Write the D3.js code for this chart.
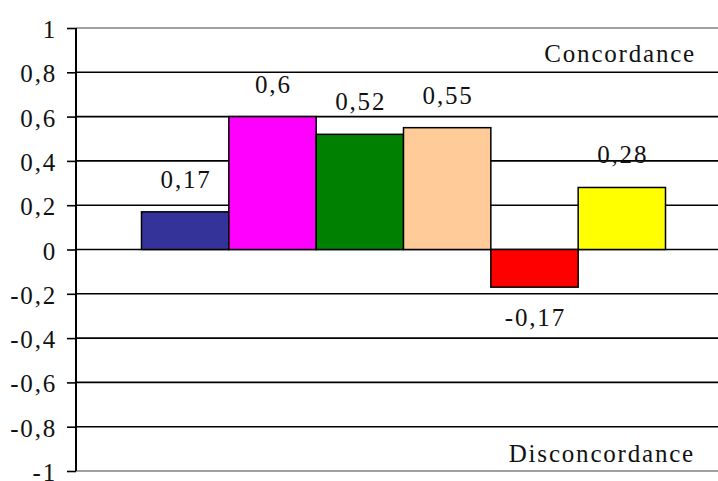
<!DOCTYPE html>
<html>
<head>
<meta charset="utf-8">
<script src="https://cdn.jsdelivr.net/npm/d3@7"></script>
<style>
  html, body { margin: 0; padding: 0; background: #fff; }
  svg { display: block; }
</style>
</head>
<body>
<script>
// Concordance scores, one bar per series
const seriesNames = ["S1", "S2", "S3", "S4", "S5", "S6"];
const seriesValues = [0.17, 0.6, 0.52, 0.55, -0.17, 0.28];
const seriesColors = ["#333399", "#FF00FF", "#008000", "#FFCC99", "#FF0000", "#FFFF00"];
const tickValues = [-1, -0.8, -0.6, -0.4, -0.2, 0, 0.2, 0.4, 0.6, 0.8, 1];
const topLabel = "Concordance";
const bottomLabel = "Disconcordance";

const width = 718, height = 481;
const plot = { left: 76, right: 731, top: 28, bottom: 471 };
const FONT = "Liberation Serif";
const FS = 25;
const LS = 1.8;

const locale = d3.formatLocale({ decimal: ",", thousands: ".", grouping: [3], currency: ["", ""], minus: "-" });
const fmt = locale.format("~g");

const svg = d3.select("body").append("svg")
  .attr("width", width).attr("height", height)
  .attr("font-family", FONT);

const y = d3.scaleLinear().domain([-1, 1]).range([plot.bottom, plot.top]);

// one category, six series side by side, 150% gap
const catX = d3.scaleBand().domain(["all"]).range([plot.left, plot.right])
  .paddingInner(0).paddingOuter(0.125);
const x = d3.scaleBand().domain(seriesNames)
  .range([catX("all"), catX("all") + catX.bandwidth()]).padding(0);

// horizontal gridlines
svg.append("g").selectAll("line").data(tickValues).join("line")
  .attr("x1", plot.left).attr("x2", width)
  .attr("y1", d => y(d)).attr("y2", d => y(d))
  .attr("stroke", d => (d === 1 || d === -1) ? "#808080" : "#000")
  .attr("stroke-width", 1.6);

// bars
svg.append("g").selectAll("rect").data(seriesValues).join("rect")
  .attr("x", (d, i) => x(seriesNames[i]))
  .attr("width", x.bandwidth())
  .attr("y", d => y(Math.max(0, d)))
  .attr("height", d => Math.abs(y(d) - y(0)))
  .attr("fill", (d, i) => seriesColors[i])
  .attr("stroke", "#000")
  .attr("stroke-width", 1.5);

// value labels
svg.append("g").selectAll("text").data(seriesValues).join("text")
  .attr("x", (d, i) => x(seriesNames[i]) + x.bandwidth() / 2 + LS / 2)
  .attr("y", d => d >= 0 ? y(d) - 24 : y(d) + 39)
  .attr("text-anchor", "middle")
  .attr("font-family", FONT)
  .attr("font-size", FS)
  .attr("letter-spacing", LS)
  .attr("fill", "#111")
  .text(d => fmt(d));

// y axis
const axis = svg.append("g")
  .attr("transform", `translate(${plot.left},0)`)
  .call(d3.axisLeft(y).tickValues(tickValues).tickFormat(fmt).tickSize(9).tickPadding(10));
axis.attr("font-family", FONT);
axis.select(".domain").remove();
axis.selectAll(".tick line").attr("stroke", "#000").attr("stroke-width", 1.6);
axis.selectAll(".tick text")
  .attr("font-size", FS)
  .attr("font-family", FONT)
  .attr("letter-spacing", LS)
  .attr("fill", "#111")
  .attr("dy", "0.38em");
svg.append("line")
  .attr("x1", plot.left).attr("x2", plot.left)
  .attr("y1", plot.top).attr("y2", plot.bottom)
  .attr("stroke", "#000").attr("stroke-width", 2);

// region captions
svg.append("text").attr("x", 696).attr("y", 62).attr("text-anchor", "end")
  .attr("font-family", FONT).attr("font-size", FS).attr("letter-spacing", LS)
  .attr("fill", "#111").text(topLabel);
svg.append("text").attr("x", 695).attr("y", 462).attr("text-anchor", "end")
  .attr("font-family", FONT).attr("font-size", FS).attr("letter-spacing", LS)
  .attr("fill", "#111").text(bottomLabel);
</script>
</body>
</html>
